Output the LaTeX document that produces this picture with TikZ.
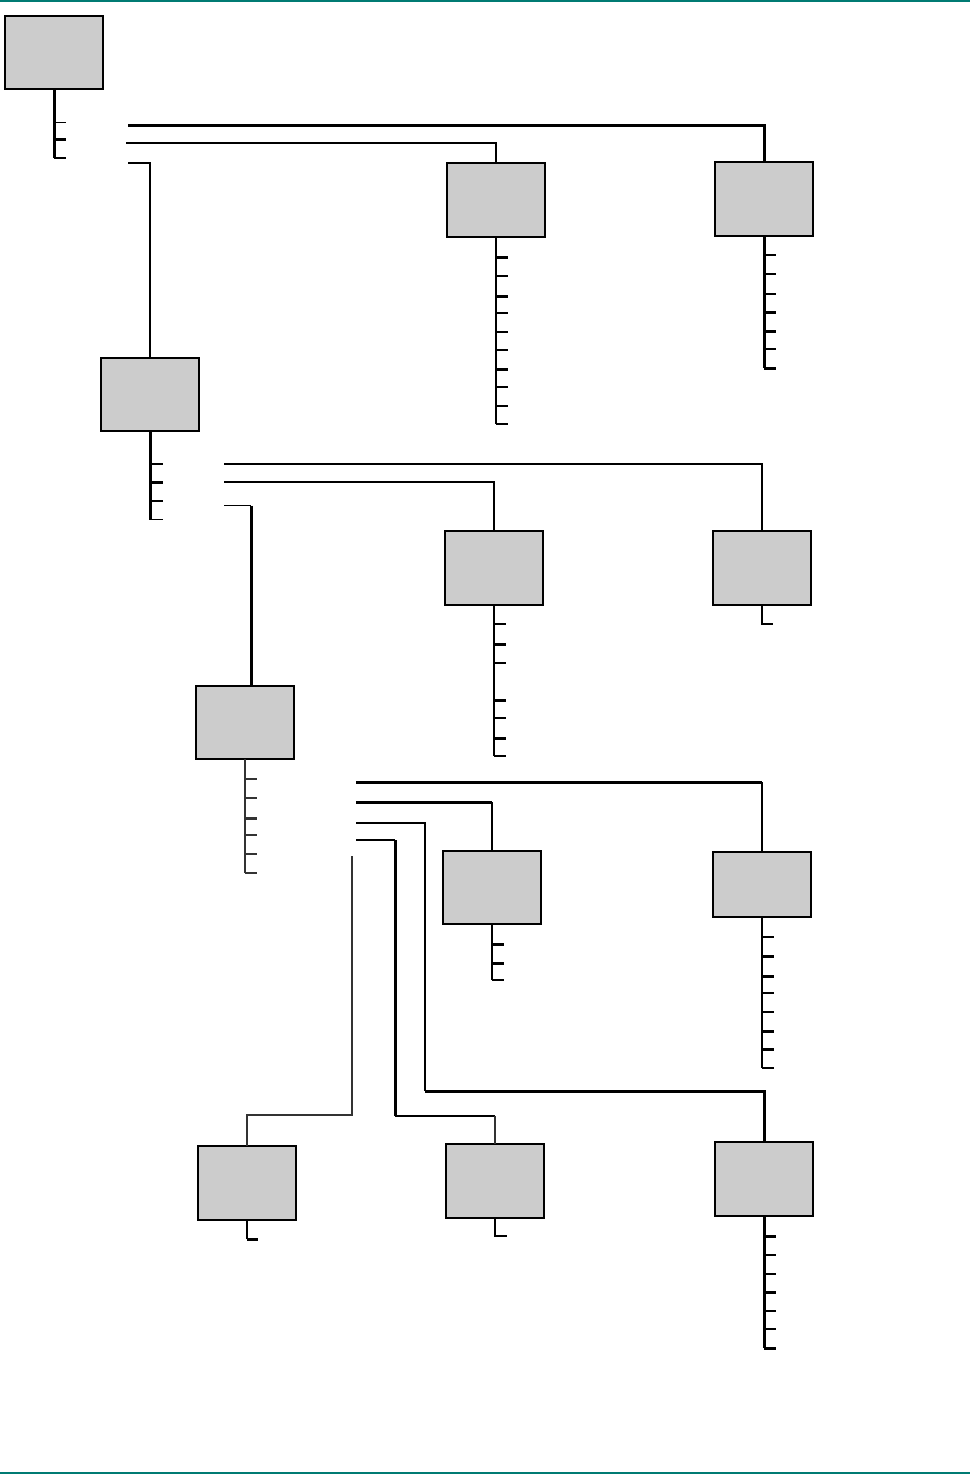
\documentclass[tikz,border=0pt]{standalone}
\usetikzlibrary{calc}
\definecolor{tealbar}{RGB}{0,123,115}
\definecolor{boxgray}{RGB}{204,204,204}
\begin{document}
\begin{tikzpicture}[x=1pt,y=-1pt,
  box/.style={draw=black, fill=boxgray, line width=1.3pt, minimum width=98pt, minimum height=73pt, inner sep=0pt, outer sep=0pt},
  thinln/.style={line width=1.2pt},
  thickln/.style={line width=3pt},
  grayln/.style={line width=1.3pt, draw=black!80},
]
\useasboundingbox (0,0) rectangle (970,1474);
% teal rules
\fill[tealbar] (0,0) rectangle (970,1.6);
\fill[tealbar] (0,1472) rectangle (970,1474);

% boxes
\node[box] (A) at (54,52.5) {};
\node[box, minimum height=74pt] (B) at (496,200) {};
\node[box, minimum height=74pt] (C) at (764,199) {};
\node[box] (D) at (150,394.5) {};
\node[box, minimum height=74pt] (E) at (494,568) {};
\node[box, minimum height=74pt] (F) at (762,568) {};
\node[box] (G) at (245,722.5) {};
\node[box] (H1) at (492,887.5) {};
\node[box, minimum height=65pt] (H2) at (762,884.5) {};
\node[box, minimum height=74pt] (I1) at (247,1183) {};
\node[box, minimum height=74pt] (I2) at (495,1181) {};
\node[box, minimum height=74pt] (J) at (764,1179) {};

% trunks and stubs
\draw[thickln] (A.south) -- ++(0,69);
\foreach \d/\s in {33.7/thinln,51/thickln,69/thinln}
  \draw[\s] (A.south) ++(0,\d) -- ++(12,0);

\draw[thinln] (B.south) -- ++(0,187);
\foreach \d/\s in {20/thickln,39/thinln,59/thickln,76/thinln,95/thinln,113/thinln,132/thickln,150/thinln,169/thinln,187/thinln}
  \draw[\s] (B.south) ++(0,\d) -- ++(12,0);

\draw[thickln] (C.south) -- ++(0,132);
\foreach \d/\s in {19/thinln,38/thinln,58/thinln,76/thickln,95/thickln,113/thinln,132/thickln}
  \draw[\s] (C.south) ++(0,\d) -- ++(12,0);

\draw[thickln] (D.south) -- ++(0,89);
\foreach \d/\s in {33/thinln,51/thickln,70/thinln,88.5/thinln}
  \draw[\s] (D.south) ++(0,\d) -- ++(13,0);

\draw[thinln] (E.south) -- ++(0,151);
\foreach \d/\s in {19/thinln,39/thickln,58/thinln,95/thickln,113/thinln,133/thickln,151/thinln}
  \draw[\s] (E.south) ++(0,\d) -- ++(12,0);

\draw[thinln] (F.south) -- ++(0,19) -- ++(11,0);

\draw[grayln] (G.south) -- ++(0,114);
\foreach \d/\s in {20/grayln,39/grayln,59/thickln,76/grayln,95/grayln,114/grayln}
  \draw[\s, draw=black!80] (G.south) ++(0,\d) -- ++(12,0);

\draw[thinln] (H1.south) -- ++(0,56);
\foreach \d/\s in {20/thickln,39/thickln,56/thinln}
  \draw[\s] (H1.south) ++(0,\d) -- ++(12,0);

\draw[thinln] (H2.south) -- ++(0,151);
\foreach \d/\s in {20/thinln,39/thickln,59/thickln,76/thinln,95/thinln,114/thickln,132/thickln,151/thinln}
  \draw[\s] (H2.south) ++(0,\d) -- ++(12,0);

\draw[thinln] (I1.south) -- ++(0,19);
\draw[thickln] (I1.south) ++(0,19) -- ++(11,0);
\draw[thinln] (I2.south) -- ++(0,18) -- ++(12,0);

\draw[thickln] (J.south) -- ++(0,132);
\foreach \d/\s in {20/thickln,39/thinln,58/thinln,76/thickln,95/thinln,113/thinln,132/thickln}
  \draw[\s] (J.south) ++(0,\d) -- ++(12,0);

% connectors from A
\coordinate (a1) at (128,126);
\coordinate (a2) at (126,143);
\coordinate (a3) at (128,163);
\draw[thickln] (a1) -| (C.north);
\draw[thinln] (a2) -| (B.north);
\draw[thinln] (a3) -| (D.north);

% connectors from D
\coordinate (d1) at (224,464);
\coordinate (d2) at (224,482);
\coordinate (d3) at (224,505.5);
\coordinate (gin) at (251,686);
\draw[thinln] (d1) -| (F.north);
\draw[thinln] (d2) -| (E.north);
\draw[thinln] (d3) -- (d3 -| gin);
\draw[thickln] (d3 -| gin) -- (gin);

% connectors from G
\coordinate (g1) at (356,782);
\coordinate (g2) at (356,802);
\coordinate (g3) at (356,823);
\coordinate (g4) at (356,840);
\coordinate (g5) at (352,856);
\coordinate (jbend) at (425,1091);
\coordinate (ibend) at (395,1116);
\coordinate (kbend) at (352,1115);
\draw[thickln] (g1) -- (g1 -| H2.north);
\draw[thinln] (g1 -| H2.north) -- (H2.north);
\draw[thickln] (g2) -- (g2 -| H1.north);
\draw[thinln] (g2 -| H1.north) -- (H1.north);
\draw[thinln] (g3) -| (jbend);
\draw[thickln] (jbend) -| (J.north);
\draw[thinln] (g4) -- (g4 -| ibend);
\draw[thickln] (g4 -| ibend) -- (ibend);
\draw[thinln] (ibend) -- (ibend -| I2.north);
\draw[grayln] (ibend -| I2.north) -- (I2.north);
\draw[grayln] (g5) -- (kbend) -| (I1.north);
\end{tikzpicture}
\end{document}
